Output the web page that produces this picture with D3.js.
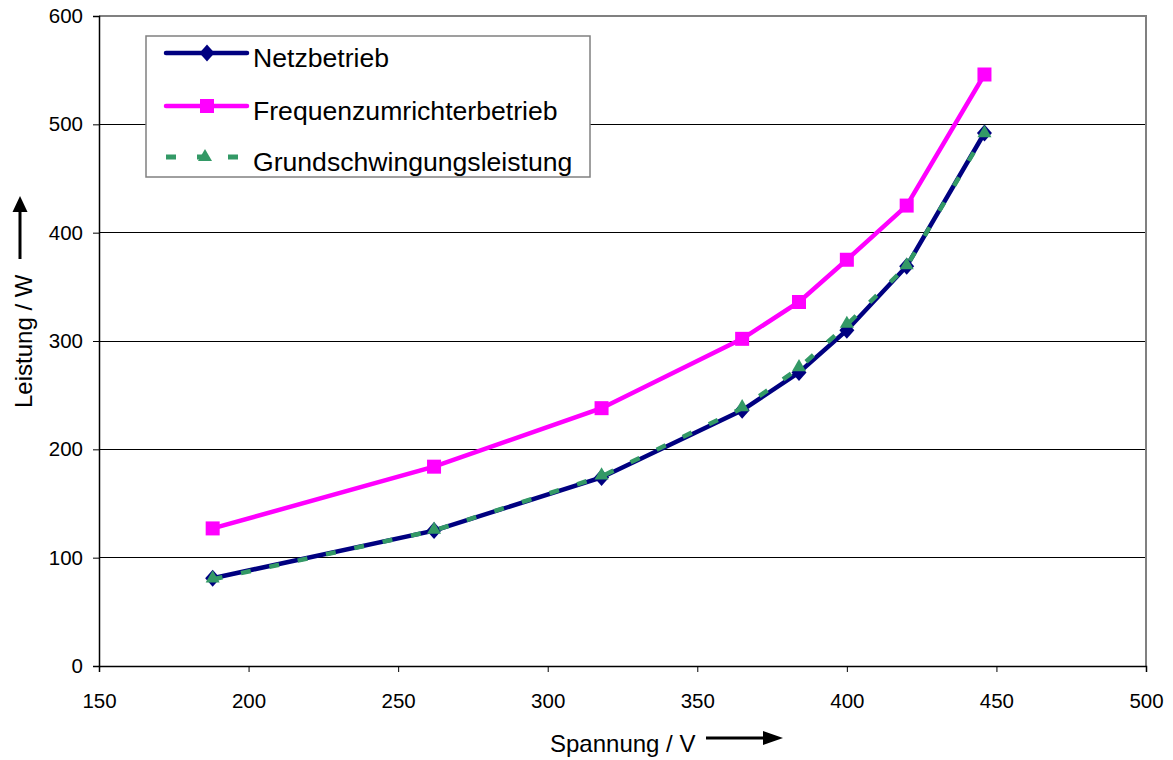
<!DOCTYPE html>
<html><head><meta charset="utf-8">
<script src="https://cdn.jsdelivr.net/npm/d3@7"></script>
<style>body{margin:0;background:#fff}svg{display:block;font-family:"Liberation Sans",Arial,sans-serif}</style>
</head><body>
<svg id="c" width="1173" height="760"></svg>
<script>
const voltages = [188, 262, 318, 365, 384, 400, 420, 446];
const netz = [81, 125, 174, 236, 271, 310, 369, 492];
const frequenz = [127, 184, 238, 302, 336, 375, 425, 546];
const grund = [80, 125, 175, 238, 275, 315, 369, 491];
const xTicks = [150, 200, 250, 300, 350, 400, 450, 500];
const yTicks = [0, 100, 200, 300, 400, 500, 600];
const seriesNames = ["Netzbetrieb", "Frequenzumrichterbetrieb", "Grundschwingungsleistung"];

const svg = d3.select("#c");
const L = 99, T = 16, R = 1146, B = 666;
const x = d3.scaleLinear().domain([150, 500]).range([L, R]);
const y = d3.scaleLinear().domain([0, 600]).range([B, T]);

// gridlines
svg.append("g").selectAll("line").data(yTicks.filter(d => d > 0 && d < 600)).join("line")
  .attr("x1", L).attr("x2", R).attr("y1", d => y(d)).attr("y2", d => y(d))
  .attr("stroke", "#000").attr("stroke-width", 1).attr("shape-rendering", "crispEdges");

// plot border top/right gray
svg.append("path").attr("d", `M${L},${T}H${R}V${B}`).attr("fill", "none")
  .attr("stroke", "#808080").attr("stroke-width", 2).attr("shape-rendering", "crispEdges");

// axes
const xAxis = d3.axisBottom(x).tickValues(xTicks).tickSize(6).tickPadding(21).tickFormat(d3.format("d"));
const gx = svg.append("g").attr("transform", `translate(0,${B})`).call(xAxis);
const yAxis = d3.axisLeft(y).tickValues(yTicks).tickSize(6).tickPadding(10).tickFormat(d3.format("d"));
const gy = svg.append("g").attr("transform", `translate(${L},0)`).call(yAxis);
[gx, gy].forEach(g => {
  g.select(".domain").attr("stroke", "#000").attr("stroke-width", 1.5);
  g.selectAll(".tick line").attr("stroke", "#000");
  g.selectAll(".tick text").attr("fill", "#000").attr("font-size", 20.5).attr("font-family", '"Liberation Sans",Arial,sans-serif');
});

const line = d3.line().x(d => x(d[0])).y(d => y(d[1]));
const data = s => voltages.map((v, i) => [v, s[i]]);
const diamondPath = "M0,-8.5L7.5,0L0,8.5L-7.5,0Z";
const tri = d3.symbol().type(d3.symbolTriangle).size(85);

// Frequenz
svg.append("path").attr("d", line(data(frequenz))).attr("fill", "none")
  .attr("stroke", "#ff00ff").attr("stroke-width", 4.5);
svg.append("g").selectAll("rect").data(data(frequenz)).join("rect")
  .attr("x", d => x(d[0]) - 7).attr("y", d => y(d[1]) - 7).attr("width", 14).attr("height", 14)
  .attr("fill", "#ff00ff");

// Netz
svg.append("path").attr("d", line(data(netz))).attr("fill", "none")
  .attr("stroke", "#000080").attr("stroke-width", 4.5);
svg.append("g").selectAll("path").data(data(netz)).join("path")
  .attr("transform", d => `translate(${x(d[0])},${y(d[1])})`).attr("d", diamondPath).attr("fill", "#000080");

// Grund
svg.append("path").attr("d", line(data(grund))).attr("fill", "none")
  .attr("stroke", "#339966").attr("stroke-width", 4.5).attr("stroke-dasharray", "10,19");
svg.append("g").selectAll("path").data(data(grund)).join("path")
  .attr("transform", d => `translate(${x(d[0])},${y(d[1]) - 1})`).attr("d", tri).attr("fill", "#339966");

// legend
const lg = svg.append("g");
lg.append("rect").attr("x", 146).attr("y", 36).attr("width", 444).attr("height", 141)
  .attr("fill", "#fff").attr("stroke", "#808080").attr("stroke-width", 1.5);
const ly = [53, 106, 157];
const lx1 = 166, lx2 = 247, lmid = 207;
// Netz
lg.append("line").attr("x1", lx1).attr("x2", lx2).attr("y1", ly[0]).attr("y2", ly[0]).attr("stroke", "#000080").attr("stroke-width", 4.5).attr("stroke-linecap", "round");
lg.append("path").attr("transform", `translate(${lmid},${ly[0]})`).attr("d", diamondPath).attr("fill", "#000080");
// Frequenz
lg.append("line").attr("x1", lx1).attr("x2", lx2).attr("y1", ly[1]).attr("y2", ly[1]).attr("stroke", "#ff00ff").attr("stroke-width", 4.5).attr("stroke-linecap", "round");
lg.append("rect").attr("x", lmid - 7).attr("y", ly[1] - 7).attr("width", 14).attr("height", 14).attr("fill", "#ff00ff");
// Grund
lg.append("line").attr("x1", lx1).attr("x2", lx2).attr("y1", ly[2]).attr("y2", ly[2]).attr("stroke", "#339966").attr("stroke-width", 5).attr("stroke-dasharray", "10,21");
lg.append("path").attr("transform", `translate(${lmid - 2},${ly[2]})`).attr("d", tri).attr("fill", "#339966");
lg.selectAll("text.lt").data(seriesNames).join("text").attr("class", "lt")
  .attr("x", 253).attr("y", (d, i) => ly[i] + 14).attr("font-size", 26.6).attr("fill", "#000").text(d => d);

// axis titles
svg.append("text").attr("x", 550).attr("y", 752).attr("font-size", 24).attr("fill", "#000").text("Spannung / V");
svg.append("line").attr("x1", 706).attr("x2", 765).attr("y1", 738).attr("y2", 738)
  .attr("stroke", "#000").attr("stroke-width", 3);
svg.append("path").attr("d", "M763,731L783,738L763,745Z").attr("fill", "#000");
svg.append("text").attr("transform", "translate(32,408) rotate(-90)").attr("font-size", 24).attr("fill", "#000").text("Leistung / W");
svg.append("line").attr("x1", 20).attr("x2", 20).attr("y1", 259).attr("y2", 210)
  .attr("stroke", "#000").attr("stroke-width", 3);
svg.append("path").attr("d", "M12.5,212L20,196L27.5,212Z").attr("fill", "#000");
</script>
</body></html>
